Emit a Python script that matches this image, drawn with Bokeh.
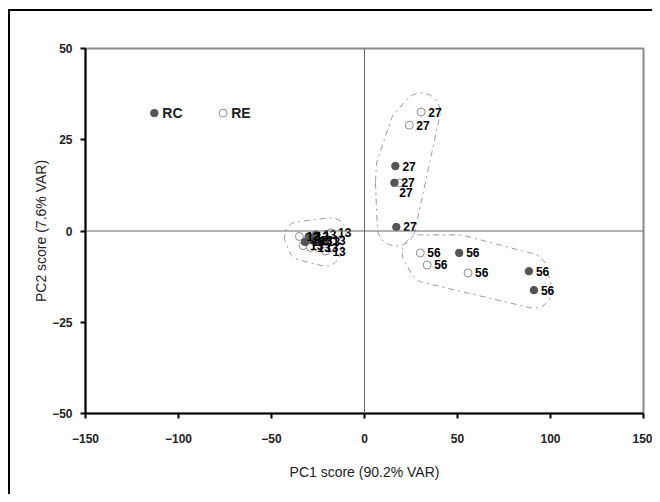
import numpy as np
from bokeh.plotting import figure
from bokeh.models import ColumnDataSource, FixedTicker, Span, Range1d
from bokeh.core.properties import value
from bokeh.embed import file_html
from bokeh.resources import INLINE

# ---------------- data ----------------
x_ticks = [-150, -100, -50, 0, 50, 100, 150]
y_ticks = [-50, -25, 0, 25, 50]

# group "13"
rc13_x = [-32, -30, -28, -26, -24, -21]
rc13_y = [-3.0, -1.5, -2.5, -1.0, -3.0, -2.5]
re13_x = [-35, -33, -29, -25, -18, -21]
re13_y = [-1.5, -4.0, -4.5, -4.5, -0.5, -5.5]

# group "27"
rc27_x = [16.6, 16.1, 17.1]
rc27_y = [17.8, 13.2, 1.1]
re27_x = [30.5, 24.1, 18.7]
re27_y = [32.6, 29.0, 13.2]

# group "56"
rc56_x = [50.9, 88.4, 91.1]
rc56_y = [-6.0, -11.0, -16.2]
re56_x = [30.0, 33.7, 55.7]
re56_y = [-6.0, -9.3, -11.5]

# legend entries
legend_names = ["RC", "RE"]
legend_x = [-113, -76]
legend_y = [32.3, 32.3]

# ---------------- figure ----------------
FONT = "Liberation Sans"
W, H = 652, 494
p = figure(width=W, height=H, output_backend="svg", toolbar_location=None,
           x_range=Range1d(-150, 150), y_range=Range1d(-50, 50),
           min_border_left=85, min_border_right=9, min_border_top=48,
           min_border_bottom=81)
# outer picture frame (top and left edges) drawn behind a transparent canvas
p.styles = {
    "background-color": "white",
    "background-image": "linear-gradient(#000,#000), linear-gradient(#000,#000)",
    "background-position": "8px 9px, 8px 9px",
    "background-size": "2px 100%, 100% 2px",
    "background-repeat": "no-repeat, no-repeat",
}
p.border_fill_color = None
p.background_fill_color = "white"
p.grid.visible = False
p.outline_line_color = "#8a8a8a"
p.outline_line_width = 2

for ax in (p.xaxis[0], p.yaxis[0]):
    ax.axis_line_color = "black"
    ax.axis_line_width = 2
    ax.major_tick_line_color = "black"
    ax.major_tick_line_width = 2
    ax.major_tick_in = 0
    ax.major_tick_out = 5
    ax.minor_tick_line_color = None
    ax.major_label_text_font = FONT
    ax.major_label_text_font_style = "bold"
    ax.major_label_text_font_size = "12px"
    ax.major_label_text_color = "#222222"
    ax.axis_label_text_font = FONT
    ax.axis_label_text_font_style = "normal"
    ax.axis_label_text_font_size = "14px"
    ax.axis_label_text_color = "#222222"

p.xaxis.ticker = FixedTicker(ticks=x_ticks)
p.yaxis.ticker = FixedTicker(ticks=y_ticks)
p.xaxis.axis_label = "PC1 score (90.2% VAR)"
p.yaxis.axis_label = "PC2 score (7.6% VAR)"
p.xaxis.major_label_standoff = 15
p.xaxis.axis_label_standoff = 18
p.yaxis.major_label_standoff = 8
p.yaxis.axis_label_standoff = 0

# zero lines
p.add_layout(Span(location=0, dimension="width", line_color="#666666", line_width=1))
p.add_layout(Span(location=0, dimension="height", line_color="#666666", line_width=1))

# ---------------- cluster outlines (derived from the points) ----------------
SX = 300 / 558.0   # data units per pixel (x)
SY = 100 / 365.0   # data units per pixel (y)

def outline(xs, ys, rpx=16):
    t = np.linspace(0, 2 * np.pi, 60, endpoint=False)
    px = np.concatenate([np.asarray(x) / SX + rpx * np.cos(t) for x in xs])
    py = np.concatenate([np.asarray(y) / SY + rpx * np.sin(t) for y in ys])
    pts = sorted(set(zip(np.round(px, 6), np.round(py, 6))))

    def cross(o, a, b):
        return (a[0] - o[0]) * (b[1] - o[1]) - (a[1] - o[1]) * (b[0] - o[0])
    lower, upper = [], []
    for q in pts:
        while len(lower) >= 2 and cross(lower[-2], lower[-1], q) <= 0:
            lower.pop()
        lower.append(q)
    for q in reversed(pts):
        while len(upper) >= 2 and cross(upper[-2], upper[-1], q) <= 0:
            upper.pop()
        upper.append(q)
    hull = lower[:-1] + upper[:-1]
    hull.append(hull[0])
    hx = [h[0] * SX for h in hull]
    hy = [h[1] * SY for h in hull]
    return hx, hy

for xs, ys, r in [(rc13_x + re13_x, rc13_y + re13_y, 15),
                  (rc27_x + re27_x, rc27_y + re27_y, 19),
                  (rc56_x + re56_x, rc56_y + re56_y, 18)]:
    hx, hy = outline(xs, ys, r)
    p.line(hx, hy, line_color="#9a9a9a", line_width=1, line_dash="dashdot")

# ---------------- points ----------------
FILL = "#555555"
OPEN_LINE = "#8c8c8c"

rc_x = rc13_x + rc27_x + rc56_x
rc_y = rc13_y + rc27_y + rc56_y
re_x = re13_x + re27_x + re56_x
re_y = re13_y + re27_y + re56_y

p.scatter(re_x, re_y, size=8, marker="circle", fill_color="white",
          line_color=OPEN_LINE, line_width=1)
p.scatter(rc_x, rc_y, size=7.5, marker="circle", fill_color=FILL,
          line_color=FILL, line_width=1)

# labels
lab_x = rc13_x + re13_x + rc27_x + re27_x + rc56_x + re56_x
lab_y = rc13_y + re13_y + rc27_y + re27_y + rc56_y + re56_y
lab_t = (["13"] * len(rc13_x + re13_x) + ["27"] * len(rc27_x + re27_x)
         + ["56"] * len(rc56_x + re56_x))
dx = [7] * len(lab_x)
dy = [0] * len(lab_x)
# the RE "27" label that sits below its neighbour
k = len(rc13_x + re13_x) + len(rc27_x) + 2
dx[k] = 0
dy[k] = 10
lab_src = ColumnDataSource(dict(x=lab_x, y=lab_y, t=lab_t, dx=dx, dy=dy))
p.text(x="x", y="y", text="t", x_offset="dx", y_offset="dy", source=lab_src,
       text_font=value(FONT), text_font_style="bold", text_font_size="12px",
       text_color="black", text_baseline="middle", text_align="left")

# legend
p.scatter([legend_x[0]], [legend_y[0]], size=7.5, fill_color=FILL, line_color=FILL)
p.scatter([legend_x[1]], [legend_y[1]], size=8, fill_color="white",
          line_color=OPEN_LINE, line_width=1)
p.text(x=legend_x, y=legend_y, text=legend_names, x_offset=8,
       text_font=value(FONT), text_font_style="bold", text_font_size="14px",
       text_color="#222222", text_baseline="middle", text_align="left")

open("out.html", "w").write(file_html(p, INLINE))
